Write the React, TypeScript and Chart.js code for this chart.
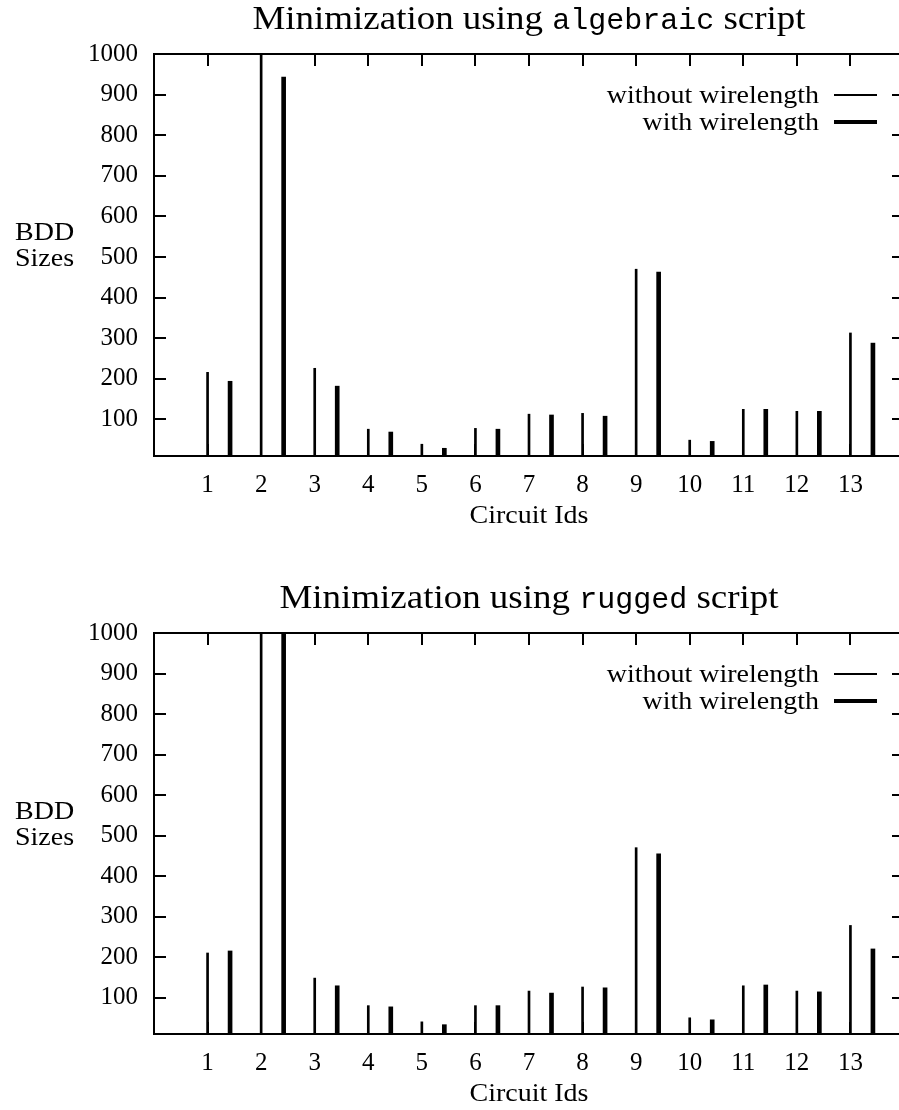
import React, { useEffect, useRef } from "react";
import { Chart, registerables } from "chart.js";

Chart.register(...registerables);

// ---------- data ----------
const circuitIds = [1, 2, 3, 4, 5, 6, 7, 8, 9, 10, 11, 12, 13];
const xTickValues = [1, 2, 3, 4, 5, 6, 7, 8, 9, 10, 11, 12, 13];
const yTickValues = [100, 200, 300, 400, 500, 600, 700, 800, 900, 1000];
const seriesLabels = ["without wirelength", "with wirelength"];

const algebraicWithout = [216, 1000, 226, 76, 39, 78, 113, 115, 470, 49, 125, 120, 313];
const algebraicWith = [194, 943, 182, 69, 29, 76, 111, 108, 463, 46, 125, 120, 288];
const ruggedWithout = [210, 1000, 148, 80, 40, 80, 116, 126, 470, 50, 129, 116, 278];
const ruggedWith = [215, 1000, 129, 77, 33, 80, 111, 124, 455, 45, 131, 114, 220];

const Y_MIN = 10;
const Y_MAX = 1000;
const X_MIN = 0;
const X_MAX = 14;
const WITH_OFFSET = 0.42;

// ---------- styling ----------
const SERIF = '"Liberation Serif", "Times New Roman", serif';
const MONO = '"Liberation Mono", "DejaVu Sans Mono", monospace';
const CANVAS_W = 920;
const PLOT_LEFT = 154;
const PLOT_RIGHT = 904;
const STRETCH = 1.12;

function drawText(
  ctx: CanvasRenderingContext2D,
  text: string,
  x: number,
  y: number,
  font: string,
  align: CanvasTextAlign,
  sx = STRETCH
) {
  ctx.save();
  ctx.font = font;
  ctx.fillStyle = "#000";
  ctx.textAlign = align;
  ctx.textBaseline = "alphabetic";
  ctx.translate(x, y);
  ctx.scale(sx, 1);
  ctx.fillText(text, 0, 0);
  ctx.restore();
}

type PanelProps = {
  top: number;
  height: number;
  plotTop: number;
  plotBottom: number;
  scriptName: string;
  withoutVals: number[];
  withVals: number[];
};

function Panel({ top, height, plotTop, plotBottom, scriptName, withoutVals, withVals }: PanelProps) {
  const ref = useRef<HTMLCanvasElement>(null);

  useEffect(() => {
    const canvas = ref.current;
    if (!canvas) return;

    const decor = {
      id: "decor",
      afterDatasetsDraw(chart: any) {
        const ctx: CanvasRenderingContext2D = chart.ctx;
        const { left, right, top: t, bottom } = chart.chartArea;
        const xs = chart.scales.x;
        const ys = chart.scales.y;
        ctx.save();
        ctx.strokeStyle = "#000";
        ctx.lineWidth = 2;
        ctx.lineCap = "butt";
        // frame
        ctx.strokeRect(left, t, right - left, bottom - t);
        // ticks
        const TL = 12;
        ctx.beginPath();
        yTickValues.forEach((v) => {
          const py = Math.round(ys.getPixelForValue(v));
          ctx.moveTo(left, py);
          ctx.lineTo(left + TL, py);
          ctx.moveTo(right, py);
          ctx.lineTo(right - TL, py);
        });
        xTickValues.forEach((v) => {
          const px = Math.round(xs.getPixelForValue(v));
          ctx.moveTo(px, t);
          ctx.lineTo(px, t + TL);
          ctx.moveTo(px, bottom);
          ctx.lineTo(px, bottom - TL);
        });
        ctx.stroke();

        // legend
        const ds = chart.data.datasets;
        ds.forEach((d: any, i: number) => {
          const rowY = t + 41 + i * 27;
          drawText(ctx, d.label, 819, rowY + 8, `25px ${SERIF}`, "right");
          ctx.beginPath();
          ctx.lineWidth = d.barThickness;
          ctx.moveTo(834, rowY);
          ctx.lineTo(877, rowY);
          ctx.stroke();
        });

        // title (mixed fonts)
        const cx = (left + right) / 2;
        const parts = [
          { text: "Minimization using ", font: `33px ${SERIF}`, sx: STRETCH },
          { text: scriptName, font: `30px ${MONO}`, sx: 1 },
          { text: " script", font: `33px ${SERIF}`, sx: STRETCH },
        ];
        let total = 0;
        const widths = parts.map((p) => {
          ctx.font = p.font;
          const w = ctx.measureText(p.text).width * p.sx;
          total += w;
          return w;
        });
        let x0 = cx - total / 2;
        const titleBase = t - 25;
        parts.forEach((p, i) => {
          drawText(ctx, p.text, x0, titleBase, p.font, "left", p.sx);
          x0 += widths[i];
        });

        // y axis label
        const mid = (t + bottom) / 2;
        drawText(ctx, "BDD", 15, mid - 15, `25px ${SERIF}`, "left");
        drawText(ctx, "Sizes", 15, mid + 11, `25px ${SERIF}`, "left");

        // x axis label
        drawText(ctx, "Circuit Ids", cx, bottom + 67, `25px ${SERIF}`, "center");
        ctx.restore();
      },
    };

    const chart = new Chart(canvas, {
      type: "bar",
      data: {
        datasets: [
          {
            label: seriesLabels[0],
            data: circuitIds.map((id, i) => ({ x: id, y: withoutVals[i] })),
            backgroundColor: "#000",
            borderWidth: 0,
            barThickness: 2,
            grouped: false,
          } as any,
          {
            label: seriesLabels[1],
            data: circuitIds.map((id, i) => ({ x: id + WITH_OFFSET, y: withVals[i] })),
            backgroundColor: "#000",
            borderWidth: 0,
            barThickness: 4,
            grouped: false,
          } as any,
        ],
      },
      options: {
        animation: false,
        responsive: false,
        devicePixelRatio: 1,
        layout: { padding: { top: plotTop, left: 0, right: CANVAS_W - PLOT_RIGHT, bottom: 0 } },
        plugins: { legend: { display: false }, tooltip: { enabled: false }, title: { display: false } },
        scales: {
          x: {
            type: "linear",
            min: X_MIN,
            max: X_MAX,
            offset: false,
            position: "bottom",
            grid: { display: false, drawTicks: false, offset: false },
            border: { display: false },
            afterBuildTicks: (s: any) => {
              s.ticks = xTickValues.map((v) => ({ value: v }));
            },
            afterFit: (s: any) => {
              s.height = height - plotBottom;
            },
            ticks: {
              color: "#000",
              font: { family: SERIF, size: 25 },
              padding: 14,
              maxRotation: 0,
              autoSkip: false,
              callback: (v: any) => String(v),
            },
          },
          y: {
            type: "linear",
            min: Y_MIN,
            max: Y_MAX,
            grid: { display: false, drawTicks: false },
            border: { display: false },
            afterBuildTicks: (s: any) => {
              s.ticks = yTickValues.map((v) => ({ value: v }));
            },
            afterFit: (s: any) => {
              s.width = PLOT_LEFT;
            },
            ticks: {
              color: "#000",
              font: { family: SERIF, size: 25 },
              padding: 16,
              callback: (v: any) => String(v),
            },
          },
        },
      } as any,
      plugins: [decor],
    });
    return () => chart.destroy();
  }, []);

  return (
    <canvas
      ref={ref}
      width={CANVAS_W}
      height={height}
      style={{ position: "absolute", left: 0, top, width: CANVAS_W, height, display: "block" }}
    />
  );
}

export default function App() {
  return (
    <div
      style={{
        position: "absolute",
        left: 0,
        top: 0,
        width: 899,
        height: 1110,
        overflow: "hidden",
        background: "#fff",
      }}
    >
      <Panel
        top={0}
        height={545}
        plotTop={54}
        plotBottom={456}
        scriptName="algebraic"
        withoutVals={algebraicWithout}
        withVals={algebraicWith}
      />
      <Panel
        top={560}
        height={550}
        plotTop={73}
        plotBottom={474}
        scriptName="rugged"
        withoutVals={ruggedWithout}
        withVals={ruggedWith}
      />
    </div>
  );
}
